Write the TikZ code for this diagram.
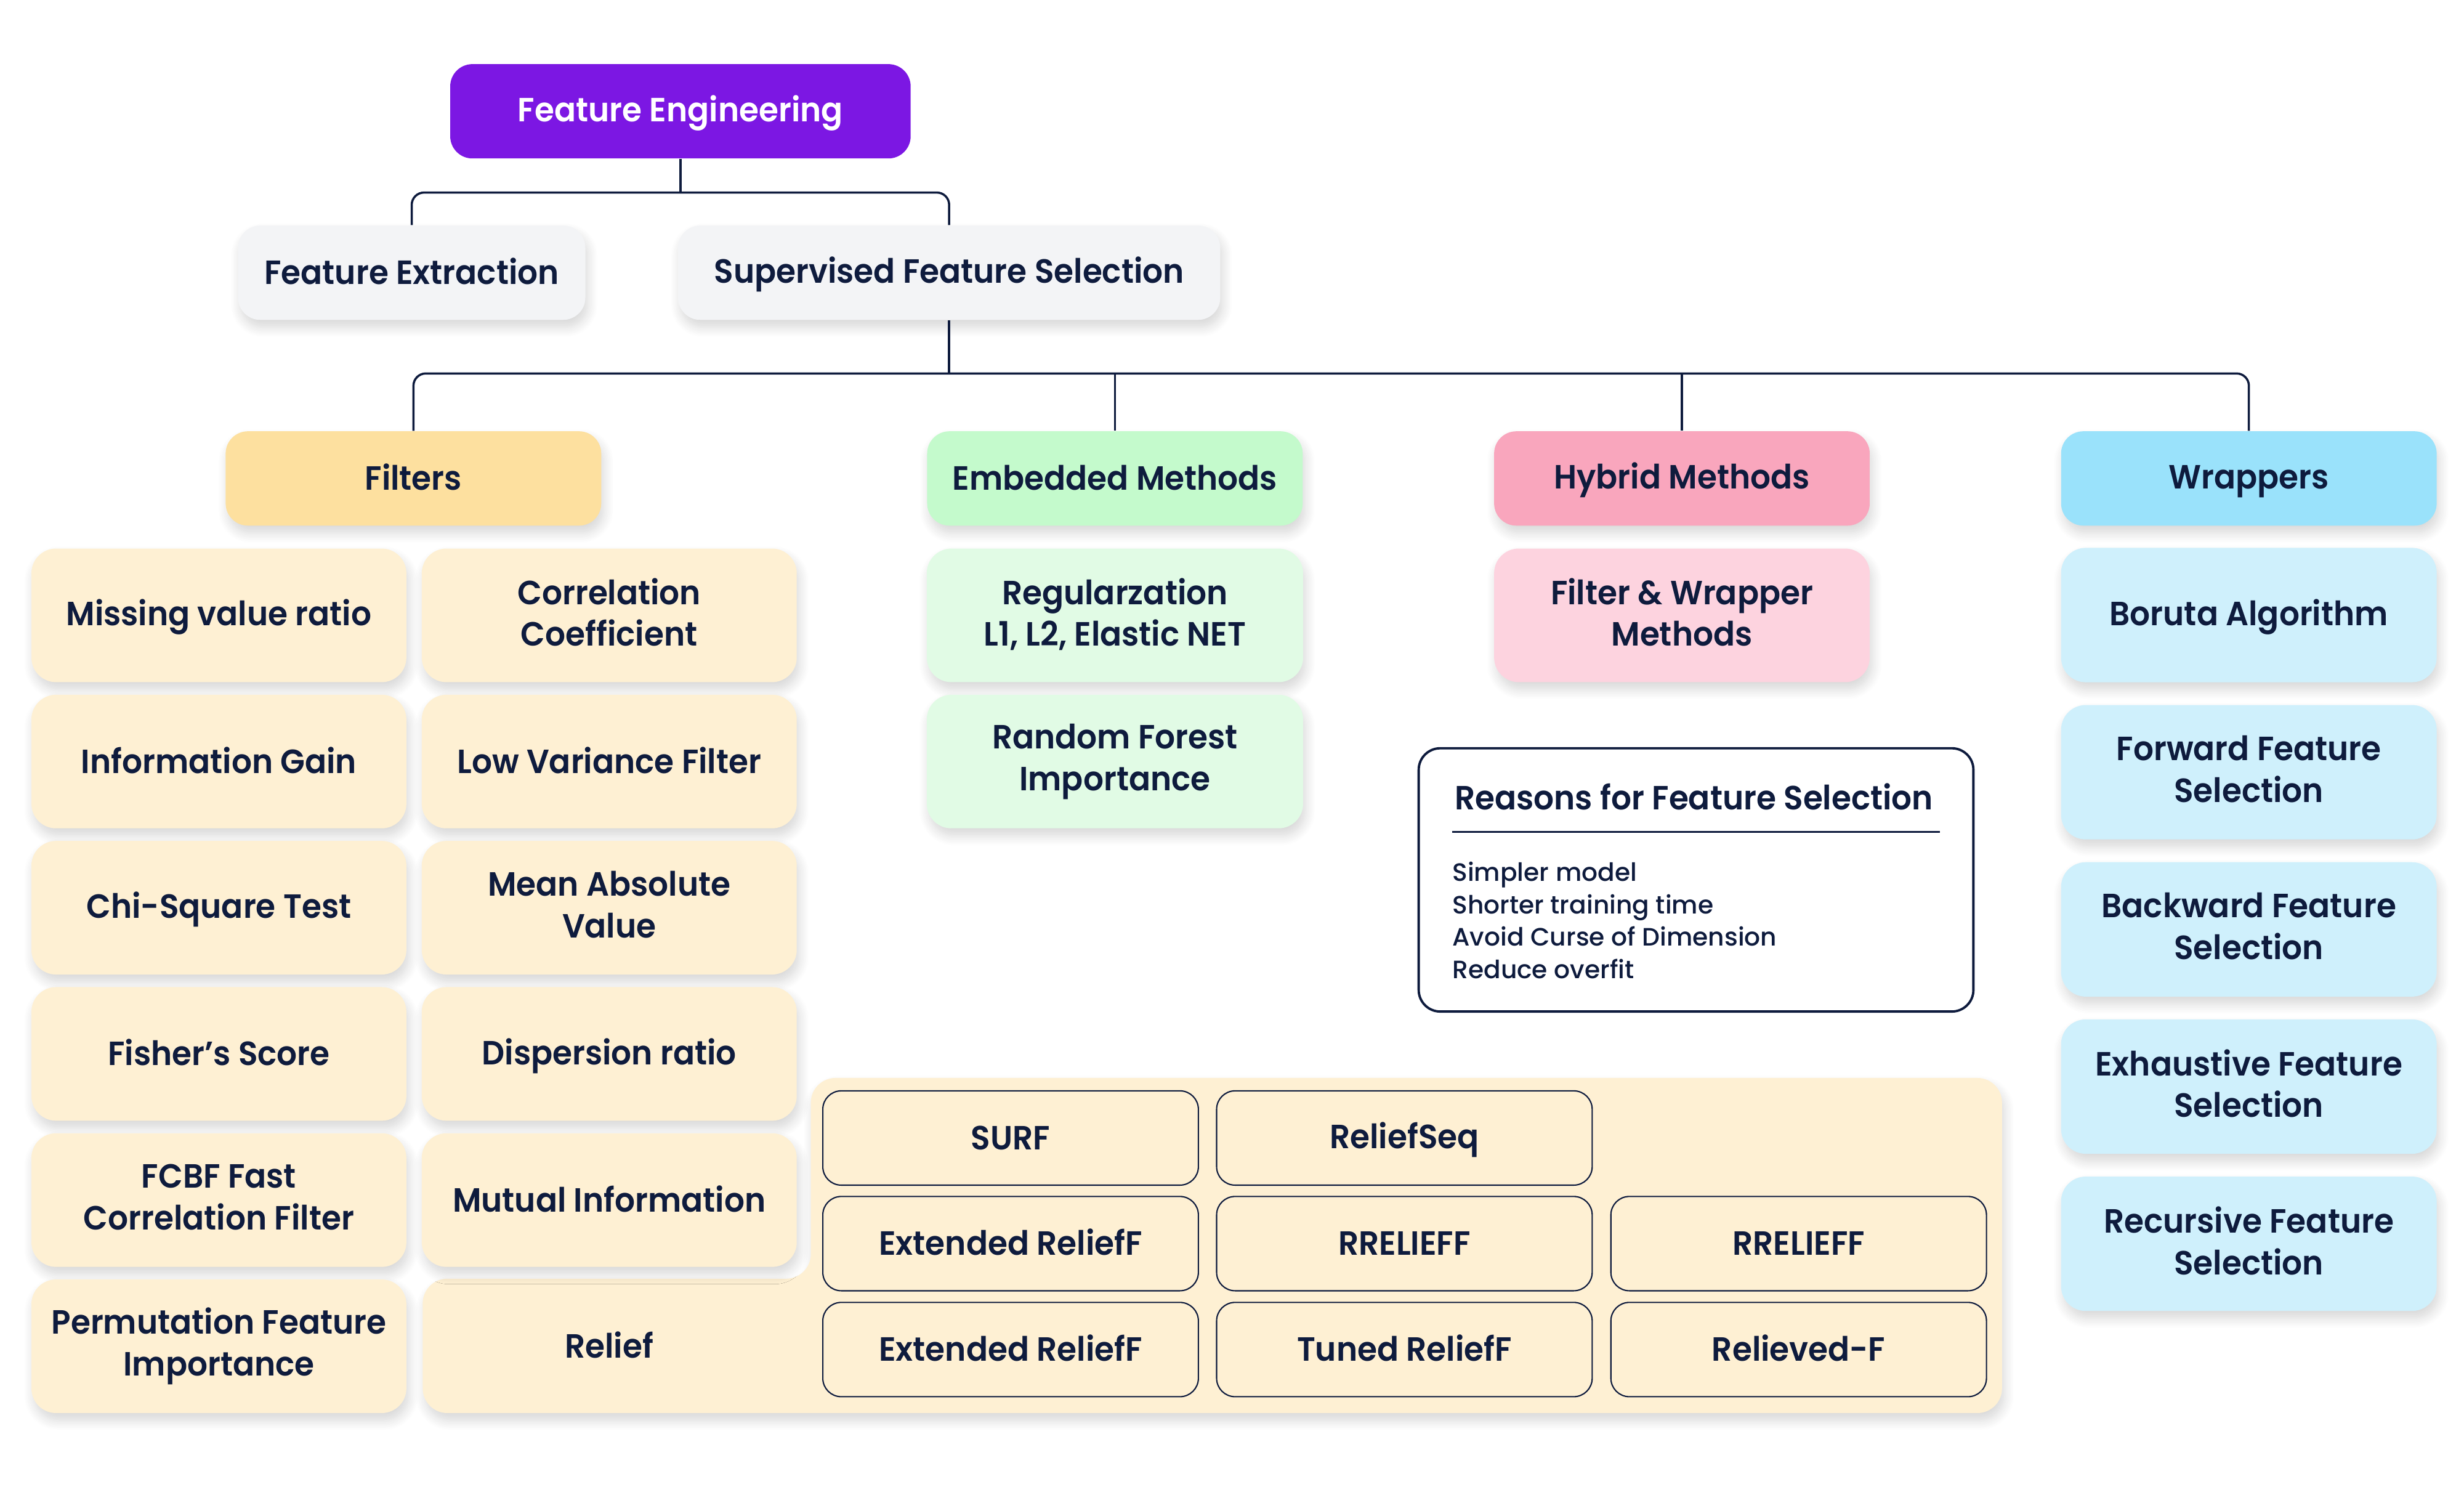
\documentclass[tikz,border=0pt]{standalone}
\usepackage{fontspec}
\setmainfont{Poppins SemiBold}[FakeStretch=0.95]
\newfontfamily\medfont{Poppins Medium}
\usetikzlibrary{shadows.blur}
\definecolor{navy}{HTML}{0E1B3D}
\definecolor{fepurple}{HTML}{7C17E3}
\definecolor{grayb}{HTML}{F3F4F6}
\definecolor{filtH}{HTML}{FDE09F}
\definecolor{cream}{HTML}{FEF0D3}
\definecolor{embH}{HTML}{C4FACC}
\definecolor{embL}{HTML}{E1FBE5}
\definecolor{hybH}{HTML}{F9A6BD}
\definecolor{hybL}{HTML}{FDD3DF}
\definecolor{wrapH}{HTML}{9AE2FB}
\definecolor{wrapL}{HTML}{CFF0FC}
\newcommand\lbl{\fontsize{15.5}{19.3}\selectfont}
\newcommand\capstrut{\rule[-3pt]{0pt}{16.85pt}}
\begin{document}
\begin{tikzpicture}[x=0.02552cm, y=-0.02552cm,
  wh/.style 2 args={minimum width=#1*0.02552cm, minimum height=#2*0.02552cm},
  box/.style={rounded corners=0.36cm, text=navy, align=center, inner sep=0pt, font=\lbl,
    execute at begin node=\capstrut, execute at end node=\capstrut},
  shad/.style={blur shadow={shadow xshift=0.04cm, shadow yshift=-0.12cm, shadow blur radius=0.16cm, shadow opacity=16, shadow blur steps=12}},
  hdr/.style={box, shad, wh={239}{60}},
  child/.style={box, shad, rounded corners=0.4cm, wh={238.6}{85}},
  rbox/.style={box, draw=navy, line width=0.6pt, fill=cream, rounded corners=0.3cm, wh={239}{60}},
  conn/.style={draw=navy, line width=1pt},
  elbow/.style={conn, rounded corners=0.2cm},
  item/.style={anchor=base west, inner sep=0pt, text=navy, font=\medfont\fontsize{11.6}{14.9}\selectfont}
]
\useasboundingbox (0,0) rectangle (1568,951);

% top levels
\node[box, wh={293}{60}, fill=fepurple, text=white] (fe) at (433,70.8) {Feature Engineering};
\node[box, shad, wh={221}{60}, fill=grayb] (fx) at (262,173.5) {Feature Extraction};
\node[box, shad, wh={345}{60}, fill=grayb] (sfs) at (604,173.5) {Supervised Feature Selection};

% headers
\node[hdr, fill=filtH] (filt) at (263.1,304.4) {Filters};
\node[hdr, fill=embH] (emb) at (709.5,304.4) {Embedded Methods};
\node[hdr, fill=hybH] (hyb) at (1070.3,304.4) {Hybrid Methods};
\node[hdr, fill=wrapH] (wrap) at (1431.1,304.4) {Wrappers};

% connectors
\coordinate (j1) at (433,122.5);
\draw[conn] (fe.south) -- (j1);
\draw[elbow] (fx.north) |- (j1);
\draw[elbow] (sfs.north) |- (j1);
\coordinate (j2) at (604,237.6);
\draw[conn] (sfs.south) -- (j2);
\draw[elbow] (filt.north) |- (j2);
\draw[elbow] (wrap.north) |- (j2);
\draw[conn] (emb.north) -- (emb.north |- j2);
\draw[conn] (hyb.north) -- (hyb.north |- j2);

% relief region
\path[fill=cream, shad, rounded corners=0.4cm] (800,685.8) -- (1274,685.8) -- (1274,899) -- (269,899) -- (269,813.5) -- (516,813.5) -- (516,685.8) -- cycle;

% filters children
\node[child, fill=cream] (f11) at (139.3,391.5) {Missing value ratio};
\node[child, fill=cream] (f12) at (387.7,391.5) {Correlation\\Coefficient};
\node[child, fill=cream] (f21) at (139.3,484.5) {Information Gain};
\node[child, fill=cream] (f22) at (387.7,484.5) {Low Variance Filter};
\node[child, fill=cream] (f31) at (139.3,577.5) {Chi-Square Test};
\node[child, fill=cream] (f32) at (387.7,577.5) {Mean Absolute\\Value};
\node[child, fill=cream] (f41) at (139.3,670.5) {Fisher’s Score};
\node[child, fill=cream] (f42) at (387.7,670.5) {Dispersion ratio};
\node[child, fill=cream] (f51) at (139.3,763.5) {FCBF Fast\\Correlation Filter};
\node[child, fill=cream] (f52) at (387.7,763.5) {Mutual Information};
\node[child, fill=cream] (f61) at (139.3,856.5) {Permutation Feature\\Importance};
\node[box, wh={238.6}{85}] (f62) at (387.7,856.5) {Relief};

% relief variants
\node[rbox] (r11) at (643.1,724) {SURF};
\node[rbox] (r12) at (893.7,724) {ReliefSeq};
\node[rbox] (r21) at (643.1,791.2) {Extended ReliefF};
\node[rbox] (r22) at (893.7,791.2) {RRELIEFF};
\node[rbox] (r23) at (1144.6,791.2) {RRELIEFF};
\node[rbox] (r31) at (643.1,858.6) {Extended ReliefF};
\node[rbox] (r32) at (893.7,858.6) {Tuned ReliefF};
\node[rbox] (r33) at (1144.6,858.6) {Relieved-F};

% embedded
\node[child, fill=embL, wh={239.5}{85}] (e1) at (709.5,391.5) {Regularzation\\L1, L2, Elastic NET};
\node[child, fill=embL, wh={239.5}{85}] (e2) at (709.5,484.5) {Random Forest\\Importance};

% hybrid
\node[child, fill=hybL, wh={239}{85}] (h1) at (1070.3,391.5) {Filter \& Wrapper\\Methods};

% wrappers
\node[child, fill=wrapL, wh={239}{85.5}] (w1) at (1431.1,391.3) {Boruta Algorithm};
\node[child, fill=wrapL, wh={239}{85.5}] (w2) at (1431.1,491.3) {Forward Feature\\Selection};
\node[child, fill=wrapL, wh={239}{85.5}] (w3) at (1431.1,591.3) {Backward Feature\\Selection};
\node[child, fill=wrapL, wh={239}{85.5}] (w4) at (1431.1,691.3) {Exhaustive Feature\\Selection};
\node[child, fill=wrapL, wh={239}{85.5}] (w5) at (1431.1,791.3) {Recursive Feature\\Selection};

% reasons box
\node[draw=navy, line width=1.1pt, rounded corners=0.35cm, fill=white, wh={353}{167.5}, inner sep=0pt] (rs) at (1079.3,559.8) {};
\node[anchor=base west, inner sep=0pt, text=navy, font=\lbl] (rt) at (925.5,515.3) {Reasons for Feature Selection};
\draw[navy, line width=0.9pt] (924,529.4) -- (1234.4,529.4);
\node[item] (l1) at (924,560.6) {Simpler model};
\node[item] (l2) at (924,581.3) {Shorter training time};
\node[item] (l3) at (924,601.9) {Avoid Curse of Dimension};
\node[item] (l4) at (924,622.5) {Reduce overfit};
\end{tikzpicture}
\end{document}
